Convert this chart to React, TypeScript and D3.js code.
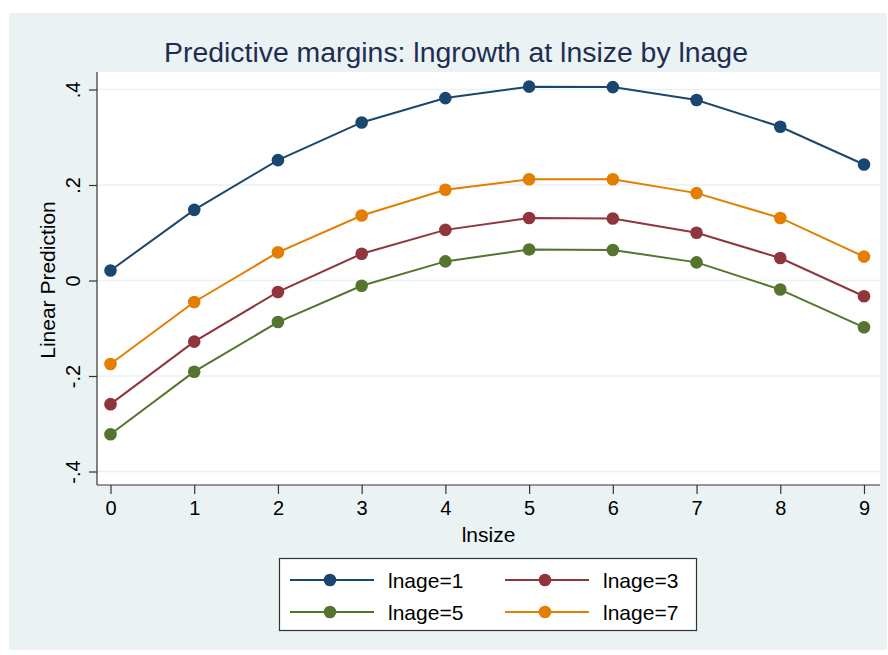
import React, { useEffect, useRef } from 'react';
import * as d3 from 'd3';

// lnsize values on the x axis
const lnsize = [0, 1, 2, 3, 4, 5, 6, 7, 8, 9];

// predicted lngrowth for each lnage group
const lnage1 = [0.021, 0.148, 0.252, 0.331, 0.382, 0.406, 0.405, 0.378, 0.322, 0.243];
const lnage3 = [-0.259, -0.128, -0.024, 0.056, 0.106, 0.131, 0.130, 0.100, 0.047, -0.033];
const lnage5 = [-0.322, -0.191, -0.087, -0.011, 0.040, 0.065, 0.064, 0.038, -0.019, -0.098];
const lnage7 = [-0.175, -0.045, 0.059, 0.136, 0.190, 0.212, 0.212, 0.183, 0.131, 0.050];

const yTicks = [-0.4, -0.2, 0, 0.2, 0.4];
const yTickLabels = ['-.4', '-.2', '0', '.2', '.4'];

const seriesNames = ['lnage=1', 'lnage=3', 'lnage=5', 'lnage=7'];
const seriesValues = [lnage1, lnage3, lnage5, lnage7];
const seriesColors = ['#1a476f', '#90353b', '#55752f', '#e37e00'];

const FONT = 'Liberation Sans, Arial, Helvetica, sans-serif';

export default function App() {
  const ref = useRef<SVGSVGElement | null>(null);

  useEffect(() => {
    const svg = d3.select(ref.current);
    svg.selectAll('*').remove();

    const width = 888;
    const height = 655;
    const plot = { left: 97, right: 880, top: 72, bottom: 485 };

    svg.attr('width', width).attr('height', height);

    // outer (graph region) background
    svg.append('rect')
      .attr('x', 9).attr('y', 13)
      .attr('width', 878).attr('height', 637)
      .attr('fill', '#eaf2f3');

    // plot region
    svg.append('rect')
      .attr('x', plot.left).attr('y', plot.top)
      .attr('width', plot.right - plot.left).attr('height', plot.bottom - plot.top)
      .attr('fill', '#ffffff');

    const x = d3.scaleLinear().domain([0, 9]).range([110.5, 864]);
    const y = d3.scaleLinear().domain([-0.4, 0.4]).range([471.5, 89.5]);

    // grid lines
    svg.append('g')
      .selectAll('line')
      .data(yTicks)
      .join('line')
      .attr('x1', plot.left).attr('x2', plot.right)
      .attr('y1', d => y(d)).attr('y2', d => y(d))
      .attr('stroke', '#eaf2f3')
      .attr('stroke-width', 1.5);

    // y axis
    const yAxis = d3.axisLeft(y)
      .tickValues(yTicks)
      .tickSize(8)
      .tickPadding(0)
      .tickFormat((d, i) => yTickLabels[i]);
    const gy = svg.append('g')
      .attr('transform', 'translate(' + plot.left + ',0)')
      .call(yAxis);
    gy.select('.domain').remove();
    gy.selectAll('line').attr('stroke', '#333').attr('stroke-width', 1.2);
    gy.selectAll('text').remove();
    gy.selectAll('.tick')
      .append('text')
      .attr('transform', 'translate(' + (80 - plot.left) + ',0) rotate(-90)')
      .attr('text-anchor', 'middle')
      .attr('fill', '#000')
      .attr('font-family', FONT)
      .attr('font-size', 20)
      .text((d, i) => yTickLabels[i]);
    svg.append('line')
      .attr('x1', plot.left).attr('x2', plot.left)
      .attr('y1', plot.top).attr('y2', plot.bottom)
      .attr('stroke', '#333').attr('stroke-width', 1.2);

    // x axis
    const xAxis = d3.axisBottom(x)
      .tickValues(lnsize)
      .tickSize(9)
      .tickPadding(7)
      .tickFormat(d3.format('d'));
    const gx = svg.append('g')
      .attr('transform', 'translate(0,' + plot.bottom + ')')
      .call(xAxis);
    gx.select('.domain').remove();
    gx.selectAll('line').attr('stroke', '#333').attr('stroke-width', 1.2);
    gx.selectAll('text')
      .attr('fill', '#000')
      .attr('font-family', FONT)
      .attr('font-size', 20);
    svg.append('line')
      .attr('x1', plot.left).attr('x2', plot.right)
      .attr('y1', plot.bottom).attr('y2', plot.bottom)
      .attr('stroke', '#333').attr('stroke-width', 1.2);

    // axis titles
    svg.append('text')
      .attr('x', (plot.left + plot.right) / 2)
      .attr('y', 542)
      .attr('text-anchor', 'middle')
      .attr('font-family', FONT)
      .attr('font-size', 21)
      .attr('fill', '#000')
      .text('lnsize');

    svg.append('text')
      .attr('transform', 'translate(55,' + 280 + ') rotate(-90)')
      .attr('text-anchor', 'middle')
      .attr('font-family', FONT)
      .attr('font-size', 21)
      .attr('fill', '#000')
      .text('Linear Prediction');

    // title
    svg.append('text')
      .attr('x', 456)
      .attr('y', 62)
      .attr('text-anchor', 'middle')
      .attr('font-family', FONT)
      .attr('font-size', 28.4)
      .attr('fill', '#1e2d53')
      .text('Predictive margins: lngrowth at lnsize by lnage');

    // lines and markers
    const line = d3.line<number>()
      .x((d, i) => x(lnsize[i]))
      .y(d => y(d));

    seriesValues.forEach((vals, s) => {
      svg.append('path')
        .datum(vals)
        .attr('fill', 'none')
        .attr('stroke', seriesColors[s])
        .attr('stroke-width', 2)
        .attr('d', line);
      svg.append('g')
        .selectAll('circle')
        .data(vals)
        .join('circle')
        .attr('cx', (d, i) => x(lnsize[i]))
        .attr('cy', d => y(d))
        .attr('r', 6.3)
        .attr('fill', seriesColors[s]);
    });

    // legend
    const legend = svg.append('g');
    legend.append('rect')
      .attr('x', 279.5).attr('y', 558.5)
      .attr('width', 417).attr('height', 72)
      .attr('fill', '#fff')
      .attr('stroke', '#333')
      .attr('stroke-width', 1.2);

    const colX = [290, 505];
    const rowY = [580, 612];
    seriesNames.forEach((name, i) => {
      const cx = colX[i % 2];
      const cy = rowY[Math.floor(i / 2)];
      legend.append('line')
        .attr('x1', cx).attr('x2', cx + 84)
        .attr('y1', cy).attr('y2', cy)
        .attr('stroke', seriesColors[i])
        .attr('stroke-width', 2);
      legend.append('circle')
        .attr('cx', cx + 40).attr('cy', cy)
        .attr('r', 6.3)
        .attr('fill', seriesColors[i]);
      legend.append('text')
        .attr('x', cx + 98)
        .attr('y', cy + 7.5)
        .attr('font-family', FONT)
        .attr('font-size', 21)
        .attr('fill', '#000')
        .text(name);
    });
  }, []);

  return <svg ref={ref} style={{ position: 'absolute', left: 0, top: 0 }} />;
}
